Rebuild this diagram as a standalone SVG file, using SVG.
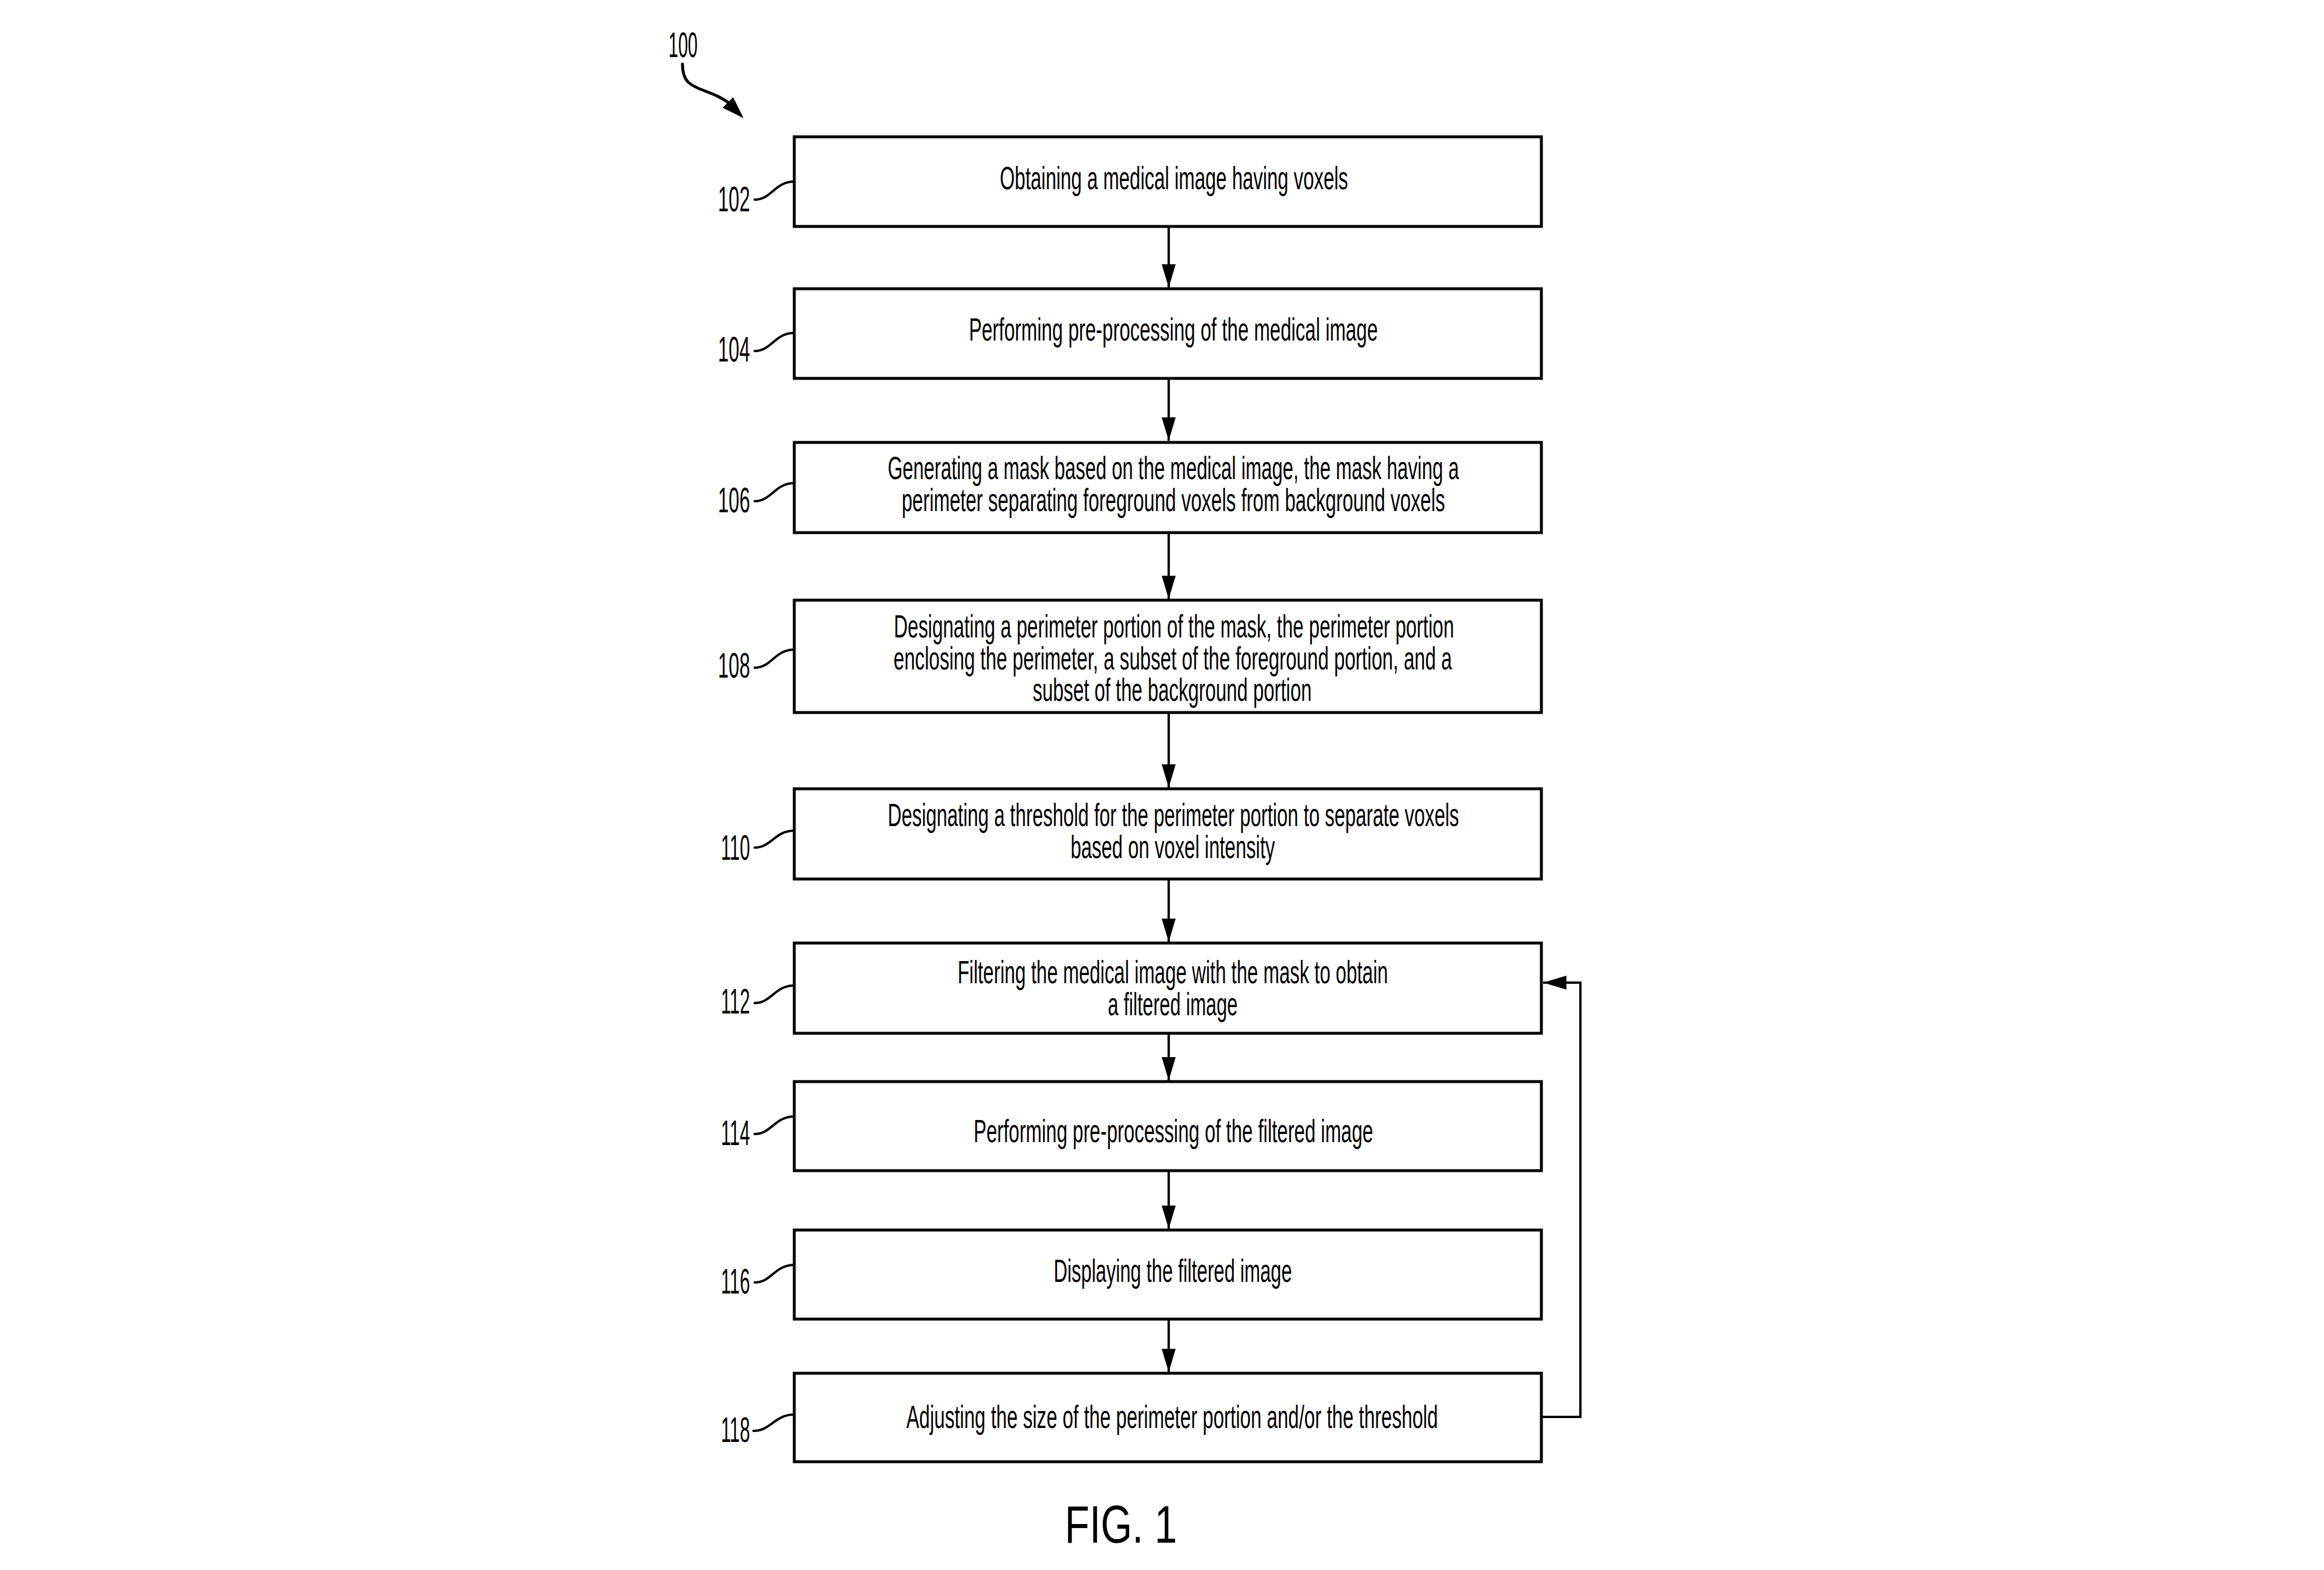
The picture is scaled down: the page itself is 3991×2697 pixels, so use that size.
<svg xmlns="http://www.w3.org/2000/svg" width="3991" height="2697" viewBox="0 0 3991 2697">
<style>
.box{fill:#fff;stroke:#000;stroke-width:5}
.t{font-family:"Liberation Sans",Arial,sans-serif;font-size:56px;fill:#000;text-anchor:middle}
.lbl{font-family:"Liberation Sans",Arial,sans-serif;font-size:62px;fill:#000;text-anchor:end}
.lead{fill:none;stroke:#000;stroke-width:4;stroke-linecap:round}
.conn{fill:none;stroke:#000;stroke-width:4}
</style>
<defs>
<marker id="ah" viewBox="0 0 40 24" refX="40" refY="12" markerWidth="40" markerHeight="24" markerUnits="userSpaceOnUse" orient="auto">
<path d="M0,0 L40,12 L0,24 Z" fill="#000"/>
</marker>
</defs>
<rect width="3991" height="2697" fill="#fff"/>
<g id="ref100">
<text x="1198" y="98" class="lbl" textLength="50" lengthAdjust="spacingAndGlyphs">100</text>
<path class="lead" d="M1172,110 C1172,140 1185,147 1210,156 C1228,163 1238,167 1252,177" style="stroke-width:5"/>
<path d="M1277,203 L1241,185 L1259,167 Z" fill="#000"/>
</g>
<g id="n102">
<rect class="box" x="1364" y="235" width="1283" height="154"/>
<text class="t" x="2016" y="325" textLength="598" lengthAdjust="spacingAndGlyphs">Obtaining a medical image having voxels</text>
<text class="lbl" x="1288" y="363" textLength="55" lengthAdjust="spacingAndGlyphs">102</text>
<path class="lead" d="M1296,343 C1325,343 1330,312 1364,312"/>
</g>
<g id="n104">
<rect class="box" x="1364" y="496" width="1283" height="154"/>
<text class="t" x="2015" y="585" textLength="702" lengthAdjust="spacingAndGlyphs">Performing pre-processing of the medical image</text>
<text class="lbl" x="1288" y="621" textLength="55" lengthAdjust="spacingAndGlyphs">104</text>
<path class="lead" d="M1296,603 C1325,603 1330,572 1364,572"/>
</g>
<g id="n106">
<rect class="box" x="1364" y="760" width="1283" height="155"/>
<text class="t" x="2015" y="823" textLength="981" lengthAdjust="spacingAndGlyphs">Generating a mask based on the medical image, the mask having a</text>
<text class="t" x="2015" y="878" textLength="933" lengthAdjust="spacingAndGlyphs">perimeter separating foreground voxels from background voxels</text>
<text class="lbl" x="1288" y="880" textLength="55" lengthAdjust="spacingAndGlyphs">106</text>
<path class="lead" d="M1296,861 C1325,861 1330,830 1364,830"/>
</g>
<g id="n108">
<rect class="box" x="1364" y="1031" width="1283" height="193"/>
<text class="t" x="2016" y="1095" textLength="962" lengthAdjust="spacingAndGlyphs">Designating a perimeter portion of the mask, the perimeter portion</text>
<text class="t" x="2014" y="1150" textLength="959" lengthAdjust="spacingAndGlyphs">enclosing the perimeter, a subset of the foreground portion, and a</text>
<text class="t" x="2013" y="1204" textLength="479" lengthAdjust="spacingAndGlyphs">subset of the background portion</text>
<text class="lbl" x="1288" y="1164" textLength="55" lengthAdjust="spacingAndGlyphs">108</text>
<path class="lead" d="M1296,1147 C1325,1147 1330,1116 1364,1116"/>
</g>
<g id="n110">
<rect class="box" x="1364" y="1355" width="1283" height="155"/>
<text class="t" x="2015" y="1419" textLength="981" lengthAdjust="spacingAndGlyphs">Designating a threshold for the perimeter portion to separate voxels</text>
<text class="t" x="2014" y="1474" textLength="351" lengthAdjust="spacingAndGlyphs">based on voxel intensity</text>
<text class="lbl" x="1288" y="1477" textLength="50" lengthAdjust="spacingAndGlyphs">110</text>
<path class="lead" d="M1296,1456 C1325,1456 1330,1427 1364,1427"/>
</g>
<g id="n112">
<rect class="box" x="1364" y="1620" width="1283" height="155"/>
<text class="t" x="2014" y="1689" textLength="739" lengthAdjust="spacingAndGlyphs">Filtering the medical image with the mask to obtain</text>
<text class="t" x="2014" y="1744" textLength="223" lengthAdjust="spacingAndGlyphs">a filtered image</text>
<text class="lbl" x="1288" y="1741" textLength="50" lengthAdjust="spacingAndGlyphs">112</text>
<path class="lead" d="M1296,1723 C1325,1723 1330,1693 1364,1693"/>
</g>
<g id="n114">
<rect class="box" x="1364" y="1858" width="1283" height="153"/>
<text class="t" x="2015" y="1962" textLength="686" lengthAdjust="spacingAndGlyphs">Performing pre-processing of the filtered image</text>
<text class="lbl" x="1288" y="1967" textLength="50" lengthAdjust="spacingAndGlyphs">114</text>
<path class="lead" d="M1296,1948 C1325,1948 1330,1918 1364,1918"/>
</g>
<g id="n116">
<rect class="box" x="1364" y="2113" width="1283" height="153"/>
<text class="t" x="2014" y="2202" textLength="409" lengthAdjust="spacingAndGlyphs">Displaying the filtered image</text>
<text class="lbl" x="1288" y="2222" textLength="50" lengthAdjust="spacingAndGlyphs">116</text>
<path class="lead" d="M1296,2203 C1325,2203 1330,2173 1364,2173"/>
</g>
<g id="n118">
<rect class="box" x="1364" y="2359" width="1283" height="152"/>
<text class="t" x="2013" y="2453" textLength="913" lengthAdjust="spacingAndGlyphs">Adjusting the size of the perimeter portion and/or the threshold</text>
<text class="lbl" x="1288" y="2477" textLength="50" lengthAdjust="spacingAndGlyphs">118</text>
<path class="lead" d="M1294,2458 C1324,2458 1330,2430 1364,2430"/>
</g>
<g id="connectors">
<line class="conn" x1="2007" y1="391" x2="2007" y2="494" marker-end="url(#ah)"/>
<line class="conn" x1="2007" y1="652" x2="2007" y2="757" marker-end="url(#ah)"/>
<line class="conn" x1="2007" y1="917" x2="2007" y2="1029" marker-end="url(#ah)"/>
<line class="conn" x1="2007" y1="1226" x2="2007" y2="1353" marker-end="url(#ah)"/>
<line class="conn" x1="2007" y1="1512" x2="2007" y2="1618" marker-end="url(#ah)"/>
<line class="conn" x1="2007" y1="1777" x2="2007" y2="1856" marker-end="url(#ah)"/>
<line class="conn" x1="2007" y1="2013" x2="2007" y2="2111" marker-end="url(#ah)"/>
<line class="conn" x1="2007" y1="2268" x2="2007" y2="2357" marker-end="url(#ah)"/>
<path class="conn" d="M2647,2434 L2714,2434 L2714,1688 L2650,1688" marker-end="url(#ah)"/>
</g>
<text x="1925" y="2650" font-family="Liberation Sans, Arial, sans-serif" font-size="90" text-anchor="middle" textLength="193" lengthAdjust="spacingAndGlyphs">FIG. 1</text>
</svg>
